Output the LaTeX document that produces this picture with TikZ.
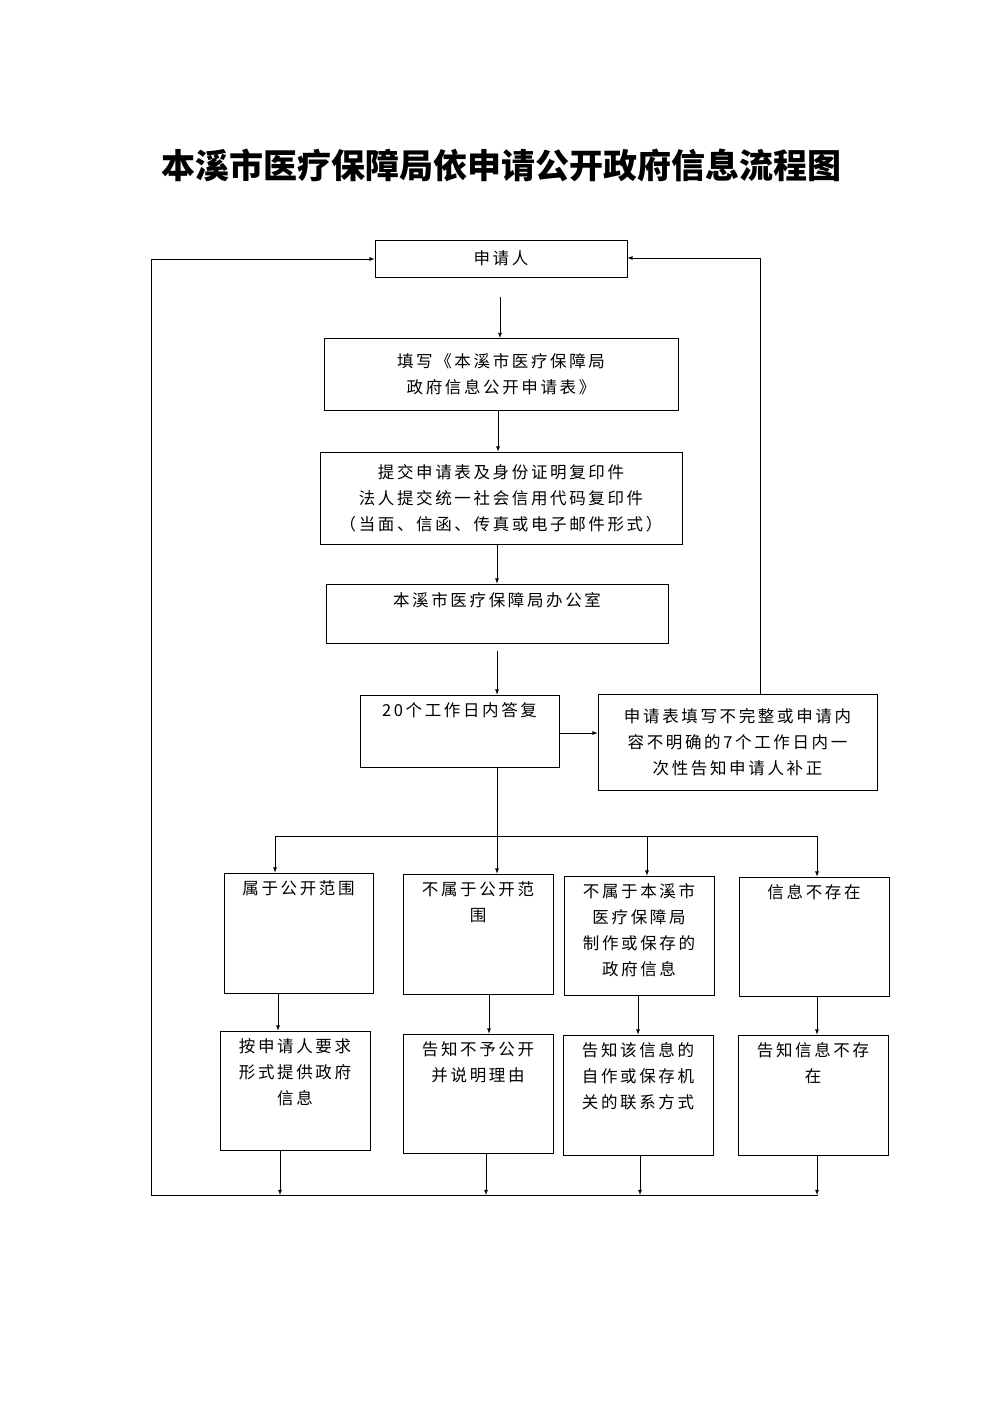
\documentclass[tikz,border=0pt]{standalone}
\usepackage{fontspec}
\setmainfont{Noto Sans CJK SC}
\newfontfamily\boxfont[LetterSpace=16]{Noto Sans CJK SC}
\usetikzlibrary{positioning}
\tikzset{
	box/.style={draw,thick,rectangle,inner sep=0pt},
	txt/.style={font=\boxfont\fontsize{16.5}{26}\selectfont,align=center,anchor=north,inner sep=0pt},
	arr/.style={thick,-latex},
}
% box from corners: (name)(x1,y1)(x2,y2)
\def\mkbox(#1)(#2,#3)(#4,#5){\node[box,minimum width={#4-#2},minimum height={#5-#3}] (#1) at ({(#2+#4)/2},{(#3+#5)/2}) {};}
\begin{document}
\begin{tikzpicture}[x=1pt,y=-1pt]
	\useasboundingbox (0,0) rectangle (1000,1415);
	%TITLE
	\node[font=\bfseries\fontsize{34}{36}\selectfont] (title) at (501,165) {本溪市医疗保障局依申请公开政府信息流程图};
	
	%BOXES
	\mkbox(app)(375,240)(627,277)
	\mkbox(form)(324,338)(678,410)
	\mkbox(submit)(320,452)(682,544)
	\mkbox(office)(326,584)(668,643)
	\mkbox(reply)(360,695)(559,767)
	\mkbox(fix)(598,694)(877,790)
	\mkbox(a1)(224,873)(373,993)
	\mkbox(b1)(403,874)(553,994)
	\mkbox(c1)(564,876)(714,995)
	\mkbox(d1)(739,877)(889,996)
	\mkbox(a2)(220,1031)(370,1150)
	\mkbox(b2)(403,1034)(553,1153)
	\mkbox(c2)(563,1035)(713,1155)
	\mkbox(d2)(738,1035)(888,1155)
	
	%LABELS
	\node[txt,anchor=center] at (app) {申请人};
	\node[txt,anchor=center] at (form) {填写《本溪市医疗保障局\\政府信息公开申请表》};
	\node[txt,anchor=center] at (submit) {提交申请表及身份证明复印件\\法人提交统一社会信用代码复印件\\（当面、信函、传真或电子邮件形式）};
	\node[txt] at ([yshift=-9]office.north) {本溪市医疗保障局办公室};
	\node[txt] at ([yshift=-8]reply.north) {20个工作日内答复};
	\node[txt,anchor=center] at (fix) {申请表填写不完整或申请内\\容不明确的7个工作日内一\\次性告知申请人补正};
	\node[txt] at ([yshift=-8]a1.north) {属于公开范围};
	\node[txt] at ([yshift=-8]b1.north) {不属于公开范\\围};
	\node[txt] at ([yshift=-8]c1.north) {不属于本溪市\\医疗保障局\\制作或保存的\\政府信息};
	\node[txt] at ([yshift=-8]d1.north) {信息不存在};
	\node[txt] at ([yshift=-8]a2.north) {按申请人要求\\形式提供政府\\信息};
	\node[txt] at ([yshift=-8]b2.north) {告知不予公开\\并说明理由};
	\node[txt] at ([yshift=-8]c2.north) {告知该信息的\\自作或保存机\\关的联系方式};
	\node[txt] at ([yshift=-8]d2.north) {告知信息不存\\在};
	
	%MAIN FLOW
	\coordinate (p0) at (500,297);
	\draw[arr] (p0) -- (500,338);
	\draw[arr] (form.south -| 498,0) -- (submit.north -| 498,0);
	\draw[arr] (submit.south -| 497,0) -- (office.north -| 497,0);
	\draw[arr] (497,651) -- (reply.north -| 497,0);
	\draw[arr] (reply.east |- 0,733) -- (fix.west |- 0,733);
	
	%RETURN LINES
	\coordinate (r0) at (760,694);
	\draw[arr] (r0) -- (760,258) -- (app.east |- 0,258);
	\coordinate (l0) at (151,1195);
	\draw[arr] (l0) -- (151,259) -- (app.west |- 0,259);
	\draw[thick] (l0) -- (818,1195);
	
	%BRANCHES
	\draw[arr] (reply.south -| 497,0) -- (b1.north -| 497,0);
	\draw[thick] (275,836) -- (818,836);
	\draw[arr] (275,836) -- (a1.north -| 275,0);
	\draw[arr] (647,836) -- (c1.north -| 647,0);
	\draw[arr] (817,836) -- (d1.north -| 817,0);
	
	\foreach \u/\v/\x in {a1/a2/278,b1/b2/489,c1/c2/638,d1/d2/817}
		\draw[arr] (\u.south -| \x,0) -- (\v.north -| \x,0);
	\foreach \v/\x in {a2/280,b2/486,c2/640,d2/817}
		\draw[arr] (\v.south -| \x,0) -- (\x,1195);
\end{tikzpicture}
\end{document}
